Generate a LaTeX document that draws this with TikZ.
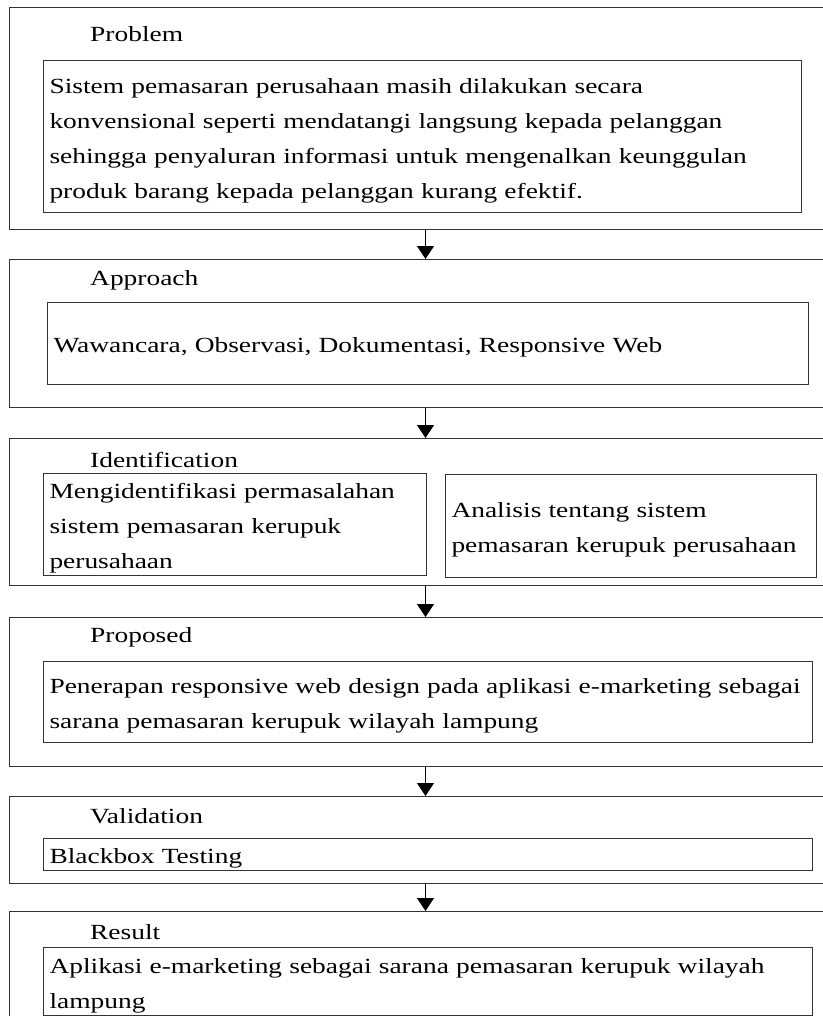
\documentclass[tikz,border=0pt]{standalone}
\usepackage{fontspec}
\setmainfont{Liberation Serif}[FakeStretch=1.27]
\usetikzlibrary{arrows.meta}
\newcommand{\boxfont}{\fontsize{21.6}{35}\selectfont}

\begin{document}
\begin{tikzpicture}[x=1pt,y=-1pt,
    stage/.style={draw=black!80,line width=1pt,anchor=north west,minimum width=832pt,inner sep=0pt},
    txtbox/.style={draw=black!80,line width=1pt,anchor=north west,align=left,inner xsep=6pt,inner ysep=0pt,font=\boxfont,
      execute at begin node={\rule{0pt}{23pt}}},
    title/.style={anchor=west,inner sep=0pt,font=\boxfont},
    flow/.style={-{Triangle[length=13pt,width=17pt]},line width=1pt}]
    \useasboundingbox (0,0) rectangle (822,1016);
    % stages
    \node[stage,minimum height=222pt] (p) at (9,7) {};
    \node[stage,minimum height=148pt] (a) at (9,259) {};
    \node[stage,minimum height=147pt] (id) at (9,438) {};
    \node[stage,minimum height=149pt] (pr) at (9,617) {};
    \node[stage,minimum height=87pt] (v) at (9,796) {};
    \node[stage,minimum height=120pt] (r) at (9,911) {};
    % titles
    \node[title] (p_t) at (90,34) {Problem};
    \node[title] (a_t) at (90,280) {Approach};
    \node[title] (id_t) at (90,460) {Identification};
    \node[title] (pr_t) at (90,637) {Proposed};
    \node[title] (v_t) at (90,816) {Validation};
    \node[title] (r_t) at (90,932) {Result};
    % contents
    \node[txtbox,text width=746pt,minimum height=152pt] (p_txt) at (43,60)
      {Sistem pemasaran perusahaan masih dilakukan secara\\
       konvensional seperti mendatangi langsung kepada pelanggan\\
       sehingga penyaluran informasi untuk mengenalkan keunggulan\\
       produk barang kepada pelanggan kurang efektif.};
    \node[txtbox,text width=749pt,minimum height=82pt] (a_txt) at (47,302)
      {Wawancara, Observasi, Dokumentasi, Responsive Web};
    \node[txtbox,text width=371pt,minimum height=102pt] (id_1) at (43,473)
      {Mengidentifikasi permasalahan\\ sistem pemasaran kerupuk\\ perusahaan};
    \node[txtbox,text width=359pt,minimum height=103pt] (id_2) at (445,474)
      {Analisis tentang sistem\\ pemasaran kerupuk perusahaan};
    \node[txtbox,text width=757pt,minimum height=81pt] (pr_txt) at (43,661)
      {Penerapan responsive web design pada aplikasi e-marketing sebagai\\
       sarana pemasaran kerupuk wilayah lampung};
    \node[txtbox,text width=757pt,minimum height=32pt] (v_txt) at (43,838)
      {Blackbox Testing};
    \node[txtbox,text width=757pt,minimum height=68pt] (r_txt) at (43,947)
      {Aplikasi e-marketing sebagai sarana pemasaran kerupuk wilayah\\ lampung};
    \path[flow]
    (p) edge (a)
    (a) edge (id)
    (id) edge (pr)
    (pr) edge (v)
    (v) edge (r);
\end{tikzpicture}
\end{document}
